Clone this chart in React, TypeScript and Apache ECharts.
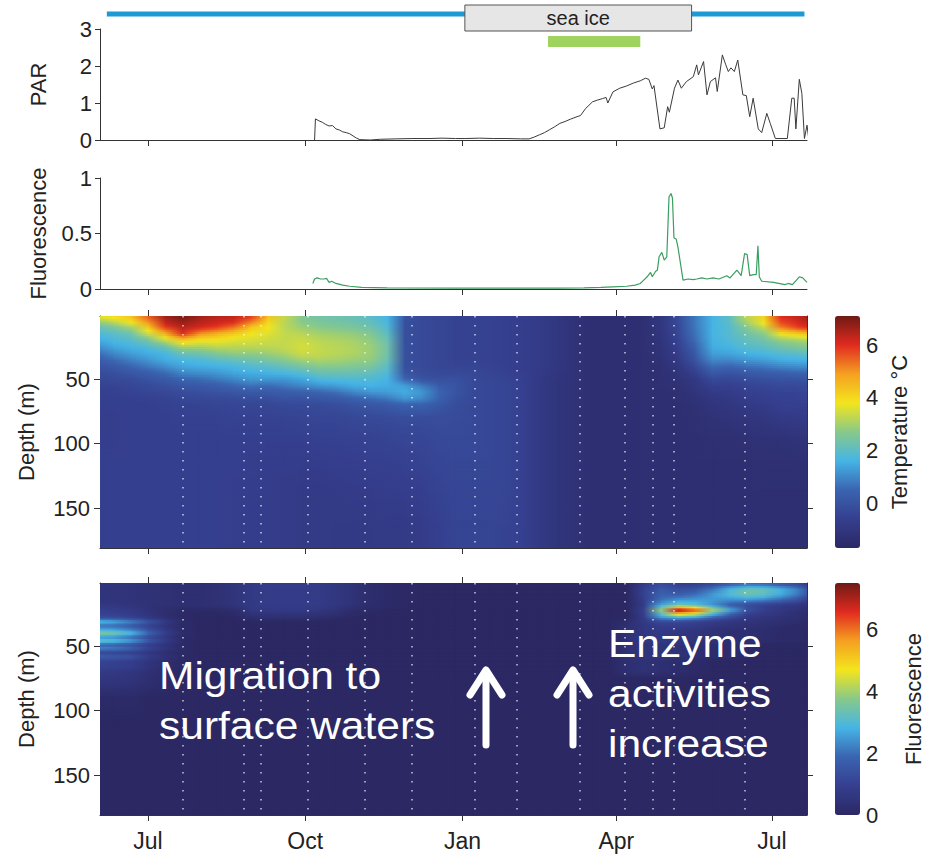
import React, { useEffect, useRef } from 'react';
import * as echarts from 'echarts';

const FONT = '"Liberation Sans", Arial, Helvetica, sans-serif';

// ---- axes / ticks ----
const X_MIN = -28;
const X_MAX = 385.5;
const X_TICKS = [0, 92, 184, 274, 365]; // days since 1 Jul
const X_LABELS = ['Jul', 'Oct', 'Jan', 'Apr', 'Jul'];
const DEPTH_TICKS = [50, 100, 150];
const TEMP_CB_TICKS = [0, 2, 4, 6];
const FLUO_CB_TICKS = [0, 2, 4, 6];
const TEMP_MIN = -1.7;
const TEMP_MAX = 7.1;
const FLMAP_MIN = 0;
const FLMAP_MAX = 7.5;
const JET = ['#2b2864', '#353f8f', '#3a64b0', '#45b4e6', '#88c98a', '#f3e51c', '#f5a021', '#e12a1f', '#6e1a14'];

// ---- timeline bars (days) ----
const OPEN_WATER = [-24, 384];
const SEA_ICE = [185.4, 318];
const GREEN_PERIOD = [234, 288];

// ---- sampling dates (dotted lines) ----
const SAMPLE_DAYS = [20.5, 56, 66, 93.6, 127, 154.4, 191.3, 215.8, 252.7, 279, 295.4, 307.7, 349.2];

// ---- PAR [day, value] ----
const PAR = [[97.5,0],[98,0.57],[100,0.52],[102,0.48],[104,0.42],[106,0.38],[108,0.39],[110,0.3],[112,0.27],[114,0.22],[116,0.2],[118,0.17],[120,0.11],[122,0.05],[124,0.01],[130,0],[136,0.02],[145,0.03],[155,0.04],[165,0.04],[172,0.05],[180,0.04],[186,0.04],[194,0.05],[202,0.04],[210,0.04],[218,0.03],[223,0.03],[226,0.08],[229,0.14],[232,0.2],[235,0.28],[238,0.36],[241,0.45],[244,0.5],[247,0.56],[251,0.63],[253,0.66],[256,0.85],[260,1.03],[263,1.08],[266,1.12],[268,1.15],[269,1.0],[272,1.3],[276,1.4],[280,1.46],[284,1.54],[288,1.6],[291,1.67],[293,1.64],[295,1.38],[296,1.47],[299.5,0.3],[302,0.33],[304,0.9],[305,0.75],[308,1.4],[310,1.62],[312,1.4],[315,1.58],[319,1.71],[321,2.03],[322,1.76],[325,2.12],[327,1.22],[329,1.58],[332,1.68],[333,1.31],[336,2.3],[338,2.03],[339.5,1.85],[341,1.95],[343,1.85],[345,2.16],[348,1.22],[350,1.2],[352,0.63],[354,1.13],[357,0.3],[359,0.2],[362,0.72],[364,0.45],[367,0.04],[374,0.04],[376.6,1.13],[378,1.13],[379,0.3],[381,1.64],[382.5,1.26],[384,0.04],[385.5,0.4],[386.5,0.04]];

// ---- surface fluorescence [day, value] ----
const FLUO = [[96.5,0.05],[97.5,0.09],[99,0.1],[101,0.09],[103,0.09],[104.5,0.096],[106,0.06],[107.5,0.07],[110,0.05],[114,0.035],[118,0.025],[125,0.015],[140,0.01],[180,0.008],[240,0.008],[255,0.01],[265,0.015],[272,0.02],[280,0.025],[285,0.035],[288,0.05],[290,0.08],[292,0.11],[294,0.15],[295,0.11],[297,0.16],[298,0.17],[299,0.29],[300.6,0.33],[302,0.26],[303.5,0.29],[304.8,0.83],[306,0.86],[306.8,0.82],[307.7,0.46],[309,0.45],[310,0.38],[313,0.08],[316,0.09],[319,0.085],[321,0.09],[324,0.1],[327,0.09],[330.5,0.1],[334,0.09],[338.6,0.12],[340.5,0.1],[344.5,0.17],[347,0.12],[349,0.32],[350.5,0.31],[352,0.12],[354,0.13],[355.8,0.13],[356.8,0.39],[357.6,0.11],[359,0.07],[366,0.06],[372.6,0.04],[374.5,0.05],[377,0.04],[381,0.11],[383,0.1],[385.5,0.06]];

// ---- section grid nodes ----
const NODE_DAYS = [-28,-20,-10,0,10,20,30,40,50,60,70,80,90,100,110,120,130,140,150,160,170,180,190,200,210,220,230,240,250,260,270,280,290,300,310,320,330,340,350,360,370,380,386];
const TEMP_DEPTHS = [2,6,10,15,20,25,30,35,40,45,50,55,60,65,70,80,95,115,140,165];

// temperature profiles, one per node day (values at TEMP_DEPTHS)
const TEMP_PROFILES = [
  [3.6,2.8,2.2,1.8,1.5,1.1,0.7,0.3,0.0,-0.2,-0.35,-0.5,-0.58,-0.6,-0.6,-0.65,-0.65,-0.6,-0.6,-0.6],
  [3.9,3.2,2.5,2.0,1.7,1.4,1.0,0.6,0.2,-0.1,-0.3,-0.45,-0.55,-0.6,-0.6,-0.65,-0.65,-0.6,-0.6,-0.6],
  [4.3,3.8,3.0,2.3,1.9,1.6,1.3,0.9,0.5,0.1,-0.2,-0.4,-0.5,-0.6,-0.6,-0.6,-0.6,-0.6,-0.6,-0.6],
  [5.5,5.0,4.2,3.4,2.4,1.8,1.5,1.2,0.8,0.3,0.0,-0.25,-0.4,-0.55,-0.6,-0.6,-0.6,-0.6,-0.6,-0.6],
  [6.6,6.3,5.8,4.6,3.3,2.2,1.7,1.5,1.1,0.6,0.2,-0.1,-0.35,-0.5,-0.55,-0.6,-0.6,-0.6,-0.6,-0.6],
  [7.0,6.7,6.4,6.0,4.2,3.0,2.2,1.7,1.4,1.0,0.5,0.1,-0.2,-0.4,-0.5,-0.55,-0.6,-0.6,-0.6,-0.6],
  [6.6,6.4,6.1,5.0,3.8,3.0,2.3,1.8,1.5,1.1,0.6,0.2,-0.1,-0.35,-0.5,-0.55,-0.6,-0.6,-0.6,-0.6],
  [6.4,6.2,5.8,4.6,3.8,3.2,2.6,2.0,1.6,1.2,0.8,0.3,0.0,-0.3,-0.45,-0.55,-0.6,-0.6,-0.6,-0.6],
  [6.3,6.0,5.3,4.2,3.6,3.2,2.8,2.2,1.7,1.4,1.0,0.5,0.1,-0.25,-0.4,-0.5,-0.6,-0.6,-0.65,-0.65],
  [5.8,5.2,4.3,3.8,3.5,3.2,2.8,2.3,1.9,1.5,1.2,0.7,0.2,-0.15,-0.4,-0.5,-0.6,-0.65,-0.7,-0.7],
  [4.3,4.0,3.8,3.6,3.4,3.2,2.9,2.5,2.0,1.6,1.2,0.6,0.2,-0.15,-0.4,-0.5,-0.6,-0.7,-0.7,-0.7],
  [3.3,3.2,3.2,3.3,3.3,3.3,3.1,2.7,2.2,1.7,1.2,0.8,0.3,0.0,-0.3,-0.5,-0.6,-0.7,-0.75,-0.75],
  [2.6,2.7,2.9,3.2,3.4,3.5,3.4,3.0,2.5,1.9,1.4,1.0,0.4,0.0,-0.3,-0.45,-0.6,-0.7,-0.8,-0.8],
  [2.4,2.5,2.7,3.0,3.2,3.3,3.3,3.1,2.7,2.2,1.7,1.2,0.5,0.1,-0.25,-0.4,-0.55,-0.7,-0.8,-0.8],
  [2.3,2.4,2.6,2.9,3.1,3.2,3.2,3.0,2.7,2.2,1.8,1.3,0.7,0.2,-0.2,-0.4,-0.55,-0.65,-0.8,-0.85],
  [2.2,2.3,2.5,2.8,3.0,3.1,3.1,2.9,2.6,2.2,1.8,1.5,1.0,0.4,0.0,-0.35,-0.5,-0.65,-0.75,-0.85],
  [2.0,2.1,2.3,2.6,2.8,2.9,2.9,2.8,2.5,2.1,1.8,1.6,1.2,0.6,0.1,-0.3,-0.5,-0.6,-0.75,-0.85],
  [1.6,1.7,1.8,2.0,2.2,2.3,2.3,2.2,2.0,1.8,1.6,1.5,1.3,0.8,0.2,-0.25,-0.45,-0.6,-0.7,-0.8],
  [0.0,-0.1,-0.1,-0.1,-0.1,-0.1,-0.1,-0.1,-0.1,0.0,0.5,1.3,1.5,1.2,0.4,-0.2,-0.4,-0.55,-0.7,-0.8],
  [-0.3,-0.3,-0.3,-0.3,-0.3,-0.3,-0.3,-0.3,-0.3,-0.2,0.0,0.8,1.2,1.0,0.4,-0.2,-0.4,-0.5,-0.65,-0.75],
  [-0.4,-0.4,-0.4,-0.4,-0.4,-0.4,-0.4,-0.4,-0.4,-0.3,-0.1,0.2,0.5,0.4,0.1,-0.2,-0.3,-0.4,-0.5,-0.6],
  [-0.5,-0.5,-0.5,-0.5,-0.5,-0.5,-0.5,-0.5,-0.45,-0.3,-0.1,0.0,0.0,-0.1,-0.2,-0.25,-0.3,-0.35,-0.4,-0.45],
  [-0.5,-0.5,-0.5,-0.5,-0.5,-0.5,-0.5,-0.5,-0.45,-0.35,-0.3,-0.3,-0.3,-0.3,-0.3,-0.3,-0.3,-0.35,-0.4,-0.45],
  [-0.55,-0.55,-0.55,-0.55,-0.55,-0.55,-0.55,-0.55,-0.5,-0.45,-0.4,-0.35,-0.35,-0.35,-0.35,-0.35,-0.35,-0.35,-0.4,-0.45],
  [-0.6,-0.6,-0.6,-0.6,-0.6,-0.6,-0.6,-0.6,-0.6,-0.55,-0.5,-0.45,-0.45,-0.45,-0.45,-0.45,-0.45,-0.45,-0.45,-0.5],
  [-0.7,-0.7,-0.7,-0.7,-0.7,-0.7,-0.7,-0.7,-0.7,-0.65,-0.6,-0.6,-0.6,-0.6,-0.6,-0.6,-0.6,-0.6,-0.6,-0.6],
  [-0.8,-0.8,-0.8,-0.8,-0.8,-0.8,-0.8,-0.8,-0.8,-0.85,-0.9,-0.9,-0.9,-0.9,-0.9,-0.9,-0.9,-0.9,-0.9,-0.9],
  [-1.0,-1.0,-1.0,-1.0,-1.0,-1.0,-1.0,-1.0,-1.0,-1.05,-1.1,-1.1,-1.1,-1.1,-1.1,-1.1,-1.1,-1.1,-1.1,-1.1],
  [-1.2,-1.2,-1.2,-1.2,-1.2,-1.2,-1.2,-1.2,-1.2,-1.2,-1.2,-1.2,-1.2,-1.2,-1.2,-1.2,-1.2,-1.2,-1.2,-1.2],
  [-1.35,-1.35,-1.35,-1.35,-1.35,-1.35,-1.35,-1.35,-1.35,-1.35,-1.35,-1.35,-1.35,-1.35,-1.35,-1.35,-1.35,-1.35,-1.35,-1.35],
  [-1.35,-1.35,-1.35,-1.35,-1.35,-1.35,-1.35,-1.35,-1.35,-1.35,-1.35,-1.35,-1.35,-1.35,-1.35,-1.35,-1.35,-1.35,-1.35,-1.35],
  [-1.35,-1.35,-1.35,-1.35,-1.35,-1.35,-1.35,-1.35,-1.35,-1.35,-1.35,-1.35,-1.35,-1.35,-1.35,-1.35,-1.35,-1.35,-1.35,-1.35],
  [-1.3,-1.3,-1.3,-1.3,-1.3,-1.3,-1.3,-1.3,-1.3,-1.3,-1.3,-1.3,-1.3,-1.3,-1.3,-1.3,-1.3,-1.3,-1.3,-1.3],
  [-1.0,-1.0,-1.0,-1.05,-1.1,-1.15,-1.2,-1.25,-1.3,-1.3,-1.3,-1.3,-1.35,-1.35,-1.35,-1.35,-1.35,-1.35,-1.35,-1.35],
  [-0.3,-0.3,-0.35,-0.4,-0.5,-0.6,-0.7,-0.85,-1.0,-1.1,-1.2,-1.25,-1.3,-1.3,-1.35,-1.35,-1.35,-1.35,-1.35,-1.35],
  [0.8,0.8,0.75,0.7,0.6,0.4,0.2,0.0,-0.3,-0.6,-0.9,-1.0,-1.1,-1.2,-1.25,-1.3,-1.35,-1.35,-1.35,-1.35],
  [1.6,1.6,1.6,1.6,1.55,1.5,1.3,1.0,0.6,0.2,-0.3,-0.6,-0.8,-1.0,-1.1,-1.2,-1.3,-1.35,-1.35,-1.35],
  [2.0,2.0,1.9,1.9,1.8,1.6,1.4,1.0,0.5,0.0,-0.35,-0.6,-0.75,-0.9,-1.0,-1.15,-1.3,-1.35,-1.35,-1.35],
  [3.2,3.0,2.6,2.3,2.1,1.9,1.6,1.2,0.7,0.2,-0.2,-0.45,-0.6,-0.7,-0.85,-1.05,-1.25,-1.35,-1.35,-1.35],
  [4.0,3.9,3.3,2.7,2.3,2.0,1.7,1.3,0.8,0.3,-0.1,-0.4,-0.55,-0.65,-0.75,-1.0,-1.2,-1.3,-1.35,-1.35],
  [6.0,5.7,5.2,3.8,2.8,2.3,1.9,1.5,1.0,0.4,0.0,-0.3,-0.45,-0.55,-0.6,-0.85,-1.2,-1.3,-1.35,-1.35],
  [6.3,6.1,5.8,4.2,3.0,2.5,2.0,1.6,1.1,0.5,0.0,-0.3,-0.45,-0.55,-0.6,-0.8,-1.15,-1.3,-1.35,-1.35],
  [6.6,6.4,6.0,4.4,3.1,2.6,2.1,1.6,1.1,0.5,0.05,-0.25,-0.4,-0.5,-0.6,-0.8,-1.1,-1.3,-1.35,-1.35],
];

// fluorescence section: one row per depth (values at NODE_DAYS)
const FLUO_DEPTHS = [2,6,10,14,18,22,25,28,31,34,37,40,43,46,49,52,55,58,62,66,70,75,80,90,110,140,165];
const z = (n: number) => new Array(n).fill(0);
const FLUO_ROWS = [
  [0.5,0.5,0.45,0.4,0.35,0.3,0.3,0.35,0.5,0.7,0.8,0.8,0.8,0.75,0.6,0.4,0.2,0.1,0.05,0,0, ...z(11), 0.8,1.3,0.9,0.9,1.2,1.7,2.0,1.9,1.6,1.2,0.7],
  [0.5,0.5,0.45,0.4,0.35,0.3,0.3,0.35,0.5,0.7,0.8,0.8,0.8,0.75,0.6,0.4,0.2,0.1,0.05,0,0, ...z(11), 1.0,1.6,1.3,1.5,2.1,2.9,3.4,3.3,2.8,2.2,1.4],
  [0.5,0.5,0.45,0.4,0.35,0.3,0.3,0.35,0.5,0.7,0.8,0.8,0.8,0.75,0.6,0.4,0.2,0.1,0.05,0,0, ...z(11), 1.0,1.8,1.7,2.0,2.5,3.0,3.4,3.2,2.7,2.1,1.3],
  [0.5,0.5,0.45,0.4,0.35,0.3,0.3,0.35,0.5,0.7,0.8,0.8,0.8,0.75,0.6,0.4,0.2,0.1,0.05,0,0, ...z(11), 0.9,2.0,2.4,2.5,2.5,2.4,2.5,2.3,1.9,1.4,0.9],
  [0.6,0.57,0.48,0.4,0.35,0.3,0.3,0.35,0.5,0.7,0.8,0.8,0.8,0.75,0.6,0.4,0.2,0.1,0.05,0,0, ...z(11), 0.8,2.6,3.4,3.1,2.4,1.7,1.3,1.0,0.8,0.6,0.4],
  [0.9,0.85,0.7,0.45,0.25,0.1,0.1,0.1,0.2,0.6,0.7,0.7,0.7,0.6,0.4,0.2,0.1,0,0,0,0, ...z(11), 1.0,4.0,7.2,6.4,4.2,2.7,1.4,0.9,0.6,0.4,0.3],
  [1.0,0.95,0.8,0.5,0.25,0.05,0,0,0.1,0.4,0.5,0.5,0.5,0.4,0.3,0.1,0,0,0,0,0, ...z(11), 0.9,3.2,5.2,4.6,3.0,1.9,1.0,0.7,0.5,0.3,0.2],
  [1.3,1.2,1.0,0.65,0.3,0.05,0,0,0,0.2,0.3,0.3,0.3,0.2,0.1,0,0,0,0,0,0, ...z(11), 0.8,2.4,2.8,2.5,1.7,1.2,0.7,0.5,0.4,0.3,0.2],
  [3.0,2.8,2.3,1.5,0.7,0.15, ...z(25), 0.2,0.7,1.2,1.2,1.0,0.8,0.6,0.5,0.4,0.3,0.2,0.1],
  [2.0,1.9,1.6,1.0,0.5,0.1, ...z(25), 0.3,0.6,0.9,0.9,0.8,0.6,0.5,0.4,0.3,0.2,0.1,0.1],
  [2.6,2.5,2.1,1.3,0.65,0.1, ...z(25), 0.4,0.6,0.8,0.7,0.6,0.4,0.3,0.3,0.2,0.1,0.1,0],
  [3.8,3.6,3.0,1.9,0.9,0.2, ...z(25), 0.4,0.6,0.7,0.6,0.5,0.4,0.3,0.3,0.2,0.1,0.1,0],
  [2.4,2.3,1.9,1.2,0.6,0.1, ...z(25), 0.4,0.6,0.7,0.6,0.5,0.4,0.3,0.3,0.2,0.1,0.1,0],
  [3.3,3.1,2.6,1.6,0.8,0.15, ...z(25), 0.4,0.6,0.7,0.6,0.5,0.4,0.3,0.3,0.2,0.1,0.1,0],
  [1.8,1.7,1.4,0.9,0.45,0.1, ...z(25), 0.4,0.5,0.5,0.4,0.3,0.2,0.2,0.1,0,0,0,0],
  [2.3,2.2,1.8,1.1,0.55,0.1, ...z(25), 0.4,0.5,0.5,0.4,0.3,0.2,0.2,0.1,0,0,0,0],
  [1.1,1.0,0.9,0.55,0.25,0.05, ...z(25), 0.4,0.5,0.5,0.4,0.3,0.2,0.2,0.1,0,0,0,0],
  [1.7,1.6,1.4,0.85,0.4,0.1, ...z(25), 0.4,0.5,0.5,0.4,0.3,0.2,0.2,0.1,0,0,0,0],
  [1.0,0.95,0.85,0.5,0.25,0.05, ...z(25), 0.3,0.4,0.3,0.2,0.1,0,0,0,0,0,0,0],
  [1.0,0.95,0.85,0.5,0.25,0.05, ...z(25), 0.3,0.4,0.3,0.2,0.1,0,0,0,0,0,0,0],
  [0.7,0.65,0.55,0.35,0.15,0, ...z(25), 0.3,0.4,0.3,0.2,0.1,0,0,0,0,0,0,0],
  [0.6,0.55,0.5,0.3,0.15,0, ...z(37)],
  [0.5,0.45,0.4,0.25,0.1,0, ...z(37)],
  [0.1,0.1,0.1,0,0,0, ...z(37)],
  [...z(43)],
  [...z(43)],
  [...z(43)],
];

// ---- helpers ----
const D_MIN = 1;
const D_MAX = 181;

// cells between grid nodes; data item: [i, k, vTL, vTR, vBL, vBR]
function buildCells(depths: number[], val: (i: number, j: number) => number) {
  const ext = [D_MIN, ...depths, D_MAX];
  const v = (i: number, k: number) => val(i, Math.max(0, Math.min(depths.length - 1, k - 1)));
  const data: number[][] = [];
  for (let i = 0; i < NODE_DAYS.length - 1; i++)
    for (let k = 0; k < ext.length - 1; k++)
      data.push([i, k, v(i, k), v(i + 1, k), v(i, k + 1), v(i + 1, k + 1)]);
  return { ext, data };
}

function makeSectionRender(ext: number[], vmin: number, vmax: number) {
  const col = (x: number) => echarts.color.lerp(Math.max(0, Math.min(1, (x - vmin) / (vmax - vmin))), JET) as string;
  return (params: any, api: any) => {
    const i = api.value(0);
    const k = api.value(1);
    const tl = api.value(2), tr = api.value(3), bl = api.value(4), br = api.value(5);
    const p0 = api.coord([NODE_DAYS[i], ext[k]]);
    const p1 = api.coord([NODE_DAYS[i + 1], ext[k + 1]]);
    const w = p1[0] - p0[0];
    const h = p1[1] - p0[1];
    if (tl === tr && tl === bl && tl === br) {
      return { type: 'rect', shape: { x: p0[0], y: p0[1], width: w + 1, height: h + 1 }, style: { fill: col(tl) } };
    }
    const n = Math.max(1, Math.ceil(h / 2.2));
    const children: any[] = [];
    for (let s = 0; s < n; s++) {
      const f = (s + 0.5) / n;
      const vl = tl + (bl - tl) * f;
      const vr = tr + (br - tr) * f;
      const fill = vl === vr ? col(vl) : new echarts.graphic.LinearGradient(0, 0, 1, 0, [
        { offset: 0, color: col(vl) },
        { offset: 1, color: col(vr) },
      ]);
      children.push({ type: 'rect', shape: { x: p0[0], y: p0[1] + (h * s) / n, width: w + 1, height: h / n + 1 }, style: { fill } });
    }
    return { type: 'group', children };
  };
}

function buildOption() {
  const temp = buildCells(TEMP_DEPTHS, (i, j) => TEMP_PROFILES[i][j]);
  const fluo = buildCells(FLUO_DEPTHS, (i, j) => FLUO_ROWS[j][i]);

  const axisColor = '#333';
  const labelColor = '#222';

  const xAxis = (gridIndex: number, position: string, showLabels: boolean) => ({
    type: 'value', gridIndex, position, min: X_MIN, max: X_MAX,
    axisLine: { show: true, onZero: false, lineStyle: { color: axisColor, width: 1 } },
    axisTick: { show: true, inside: false, length: 6, customValues: X_TICKS, lineStyle: { color: axisColor } },
    axisLabel: {
      show: showLabels, customValues: X_TICKS, fontSize: 23, color: labelColor, margin: 14, fontFamily: FONT,
      formatter: (v: number) => { const k = X_TICKS.indexOf(v); return k >= 0 ? X_LABELS[k] : ''; },
    },
    splitLine: { show: false },
  });

  const depthAxis = (gridIndex: number, position: string, showLabels: boolean) => ({
    type: 'value', gridIndex, position, min: D_MIN, max: D_MAX, inverse: true,
    axisLine: { show: true, onZero: false, lineStyle: { color: axisColor, width: 1 } },
    axisTick: { show: true, inside: false, length: 6, customValues: DEPTH_TICKS, lineStyle: { color: axisColor } },
    axisLabel: { show: showLabels, customValues: DEPTH_TICKS, fontSize: 22, color: labelColor, margin: 10, fontFamily: FONT },
    splitLine: { show: false },
    name: showLabels ? 'Depth (m)' : '',
    nameLocation: 'middle', nameGap: 63,
    nameTextStyle: { fontSize: 22, color: labelColor, fontFamily: FONT },
  });

  const lineYAxis = (gridIndex: number, max: number, interval: number, name: string) => ({
    type: 'value', gridIndex, min: 0, max, interval,
    axisLine: { show: true, onZero: false, lineStyle: { color: axisColor } },
    axisTick: { show: true, length: 5, lineStyle: { color: axisColor } },
    axisLabel: { fontSize: 22, color: labelColor, margin: 8, fontFamily: FONT },
    splitLine: { show: false },
    name, nameLocation: 'middle', nameGap: 51,
    nameTextStyle: { fontSize: 22, color: labelColor, fontFamily: FONT },
  });

  const hiddenX = (gridIndex: number) => ({ type: 'value', gridIndex, show: false, min: 0, max: 1 });

  const cbAxis = (gridIndex: number, min: number, max: number, ticks: number[], name: string, gap: number) => ({
    type: 'value', gridIndex, position: 'right', min, max,
    axisLine: { show: false }, axisTick: { show: false }, splitLine: { show: false },
    axisLabel: { customValues: ticks, fontSize: 22, color: labelColor, margin: 6, fontFamily: FONT },
    name, nameLocation: 'middle', nameGap: gap,
    nameTextStyle: { fontSize: 22, color: labelColor, fontFamily: FONT },
  });

  const sampleLines = (xi: number, yi: number) => ({
    type: 'line', xAxisIndex: xi, yAxisIndex: yi, data: [], z: 5, silent: true,
    markLine: {
      silent: true, symbol: ['none', 'none'], label: { show: false }, animation: false,
      lineStyle: { color: 'rgba(255,255,255,0.7)', width: 1.6, type: [1.6, 7.4] },
      emphasis: { disabled: true },
      data: SAMPLE_DAYS.map((d) => ({ xAxis: d })),
    },
  });

  const TIMELINE = [
    [OPEN_WATER[0], OPEN_WATER[1], 0],
    [SEA_ICE[0], SEA_ICE[1], 1],
    [GREEN_PERIOD[0], GREEN_PERIOD[1], 2],
  ];

  return {
    animation: false,
    backgroundColor: '#ffffff',
    textStyle: { fontFamily: FONT },
    grid: [
      { left: 100, top: 29, width: 707, height: 111 },
      { left: 100, top: 178, width: 707, height: 111 },
      { left: 100, top: 316, width: 707, height: 232 },
      { left: 100, top: 583, width: 707, height: 232 },
      { left: 835, top: 316, width: 25, height: 232 },
      { left: 835, top: 583, width: 25, height: 232 },
    ],
    xAxis: [
      xAxis(0, 'bottom', false),
      xAxis(1, 'bottom', false),
      xAxis(2, 'bottom', false),
      xAxis(2, 'top', false),
      xAxis(3, 'bottom', true),
      xAxis(3, 'top', false),
      hiddenX(4),
      hiddenX(5),
    ],
    yAxis: [
      lineYAxis(0, 3, 1, 'PAR'),
      lineYAxis(1, 1, 0.5, 'Fluorescence'),
      depthAxis(2, 'left', true),
      depthAxis(2, 'right', false),
      depthAxis(3, 'left', true),
      depthAxis(3, 'right', false),
      cbAxis(4, TEMP_MIN, TEMP_MAX, TEMP_CB_TICKS, 'Temperature °C', 28),
      cbAxis(5, FLMAP_MIN, FLMAP_MAX, FLUO_CB_TICKS, 'Fluorescence', 42),
    ],
    visualMap: [
      {
        type: 'continuous', seriesIndex: 2, dimension: 2, min: TEMP_MIN, max: TEMP_MAX,
        inRange: { color: JET }, calculable: false, hoverLink: false,
        left: 835, top: 316, itemWidth: 25, itemHeight: 232, padding: 0, text: null,
      },
      {
        type: 'continuous', seriesIndex: 4, dimension: 2, min: FLMAP_MIN, max: FLMAP_MAX,
        inRange: { color: JET }, calculable: false, hoverLink: false,
        left: 835, top: 583, itemWidth: 25, itemHeight: 232, padding: 0, text: null,
      },
    ],
    series: [
      {
        type: 'line', xAxisIndex: 0, yAxisIndex: 0, data: PAR, showSymbol: false, clip: true,
        lineStyle: { color: '#3a3a3a', width: 1 }, silent: true,
      },
      {
        type: 'line', xAxisIndex: 1, yAxisIndex: 1, data: FLUO, showSymbol: false, clip: true,
        lineStyle: { color: '#3a9e60', width: 1.2 }, silent: true,
      },
      {
        type: 'custom', xAxisIndex: 2, yAxisIndex: 2, data: temp.data, clip: true, silent: true,
        progressive: 0, encode: { x: 0, y: 1 },
        renderItem: makeSectionRender(temp.ext, TEMP_MIN, TEMP_MAX),
      },
      sampleLines(2, 2),
      {
        type: 'custom', xAxisIndex: 4, yAxisIndex: 4, data: fluo.data, clip: true, silent: true,
        progressive: 0, encode: { x: 0, y: 1 },
        renderItem: makeSectionRender(fluo.ext, FLMAP_MIN, FLMAP_MAX),
      },
      sampleLines(4, 4),
      {
        type: 'custom', xAxisIndex: 0, yAxisIndex: 0, data: TIMELINE, clip: false, silent: true,
        encode: { x: [0, 1], y: 2 }, z: 10,
        renderItem: (params: any, api: any) => {
          const x0 = api.value(0), x1 = api.value(1), kind = api.value(2);
          const a = api.coord([x0, 3]);
          const b = api.coord([x1, 3]);
          const top = a[1];
          if (kind === 0) {
            return { type: 'rect', shape: { x: a[0], y: top - 17.5, width: b[0] - a[0], height: 5 }, style: { fill: '#1b9ad6' } };
          }
          if (kind === 1) {
            return {
              type: 'group',
              children: [
                { type: 'rect', shape: { x: a[0], y: top - 24, width: b[0] - a[0], height: 26 }, style: { fill: '#e6e6e6', stroke: '#555', lineWidth: 1 } },
                { type: 'text', x: (a[0] + b[0]) / 2, y: top - 11, style: { text: 'sea ice', fill: '#222', fontSize: 20, fontFamily: FONT, align: 'center', verticalAlign: 'middle' } },
              ],
            };
          }
          return { type: 'rect', shape: { x: a[0], y: top + 7, width: b[0] - a[0], height: 11 }, style: { fill: '#9fd35f' } };
        },
      },
    ],
    graphic: [
      {
        type: 'text', x: 159, y: 651, z: 100, silent: true, scaleX: 1.09,
        style: { text: 'Migration to\nsurface waters', fill: '#ffffff', fontSize: 39, lineHeight: 50, fontFamily: FONT, verticalAlign: 'top' },
      },
      {
        type: 'text', x: 608, y: 619, z: 100, silent: true, scaleX: 1.09,
        style: { text: 'Enzyme\nactivities\nincrease', fill: '#ffffff', fontSize: 39, lineHeight: 50, fontFamily: FONT, verticalAlign: 'top' },
      },
      { type: 'line', z: 100, silent: true, shape: { x1: 486, y1: 745, x2: 486, y2: 671 }, style: { stroke: '#fff', lineWidth: 7, lineCap: 'round' } },
      { type: 'polyline', z: 100, silent: true, shape: { points: [[470, 695], [486, 670], [502, 695]] }, style: { stroke: '#fff', lineWidth: 7, lineCap: 'round', lineJoin: 'round', fill: null } },
      { type: 'line', z: 100, silent: true, shape: { x1: 573, y1: 745, x2: 573, y2: 671 }, style: { stroke: '#fff', lineWidth: 7, lineCap: 'round' } },
      { type: 'polyline', z: 100, silent: true, shape: { points: [[557, 695], [573, 670], [589, 695]] }, style: { stroke: '#fff', lineWidth: 7, lineCap: 'round', lineJoin: 'round', fill: null } },
    ],
  };
}

export default function App() {
  const ref = useRef<HTMLDivElement>(null);
  useEffect(() => {
    document.body.style.margin = '0';
    const chart = echarts.init(ref.current as HTMLDivElement, null, { renderer: 'svg' });
    chart.setOption(buildOption() as any);
    return () => chart.dispose();
  }, []);
  return <div ref={ref} style={{ width: 934, height: 855, background: '#fff' }} />;
}
